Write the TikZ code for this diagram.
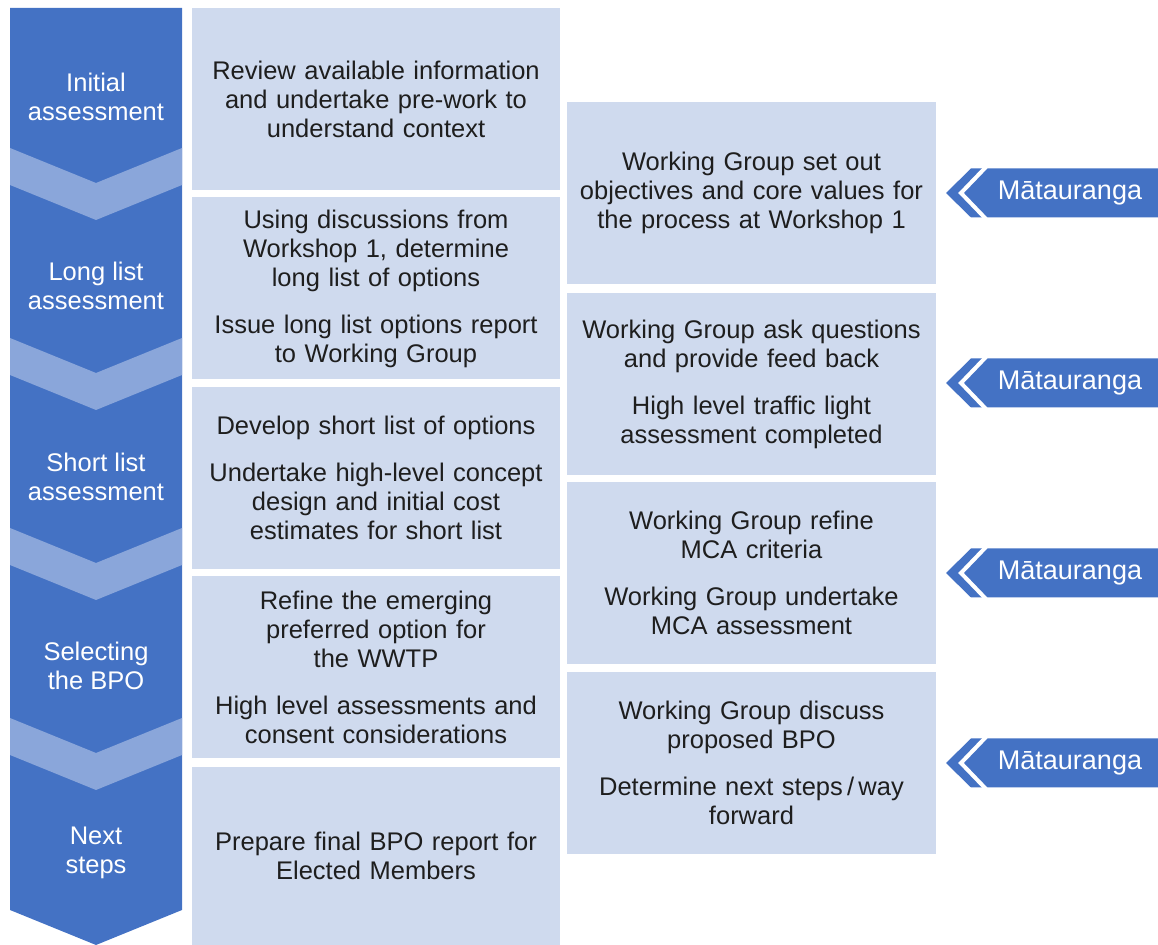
\documentclass[tikz,border=0pt]{standalone}
\usepackage{fontspec}
\setmainfont{Liberation Sans}
\definecolor{stageblue}{HTML}{4472C4}
\definecolor{bandblue}{HTML}{8AA6DA}
\definecolor{boxblue}{HTML}{CFDAEE}
\definecolor{boxtext}{HTML}{1E1E1E}
\tikzset{
  task/.style={fill=boxblue, text=boxtext, align=center, text width=172pt,
    minimum width=184pt, minimum height=91pt, inner sep=0pt,
    font=\fontsize{12.75}{14.5}\selectfont},
  stage/.style={text=white, align=center, font=\fontsize{12.75}{14.5}\selectfont},
  tagtext/.style={text=white, font=\fontsize{13.5}{15}\selectfont},
}
\begin{document}
\begin{tikzpicture}[x=0.5pt, y=-0.5pt]
\useasboundingbox (0,0) rectangle (1158,945);
% stage column with the lighter chevron bands
\fill[stageblue] (10,8) -- (182,8) -- (182,910) -- (96,945) -- (10,910) -- cycle;
\foreach \y in {148,338,528,718}
  \fill[bandblue] (10,\y) -- (96,\y+35) -- (182,\y) -- (182,\y+37) -- (96,\y+72) -- (10,\y+37) -- cycle;
\node[stage] (initial) at (96,97) {Initial\\assessment};
\node[stage] (long) at (96,286) {Long list\\assessment};
\node[stage] (short) at (96,477) {Short list\\assessment};
\node[stage] (select) at (96,666) {Selecting\\the BPO};
\node[stage] (next) at (96,853) {Next\\steps};
% tasks
\node[task] (review) at (376,99) {Review available information\\and undertake pre-work to\\understand context};
\node[task] (options) at (376,288.5) {Using discussions from\\Workshop 1, determine\\long list of options\\[9pt]Issue long list options report\\to Working Group};
\node[task] (develop) at (376,478) {Develop short list of options\\[9pt]Undertake high-level concept\\design and initial cost\\estimates for short list};
\node[task] (refine) at (376,667.5) {Refine the emerging\\preferred option for\\the WWTP\\[9pt]High level assessments and\\consent considerations};
\node[task, minimum height=89pt] (report) at (376,856) {Prepare final BPO report for\\Elected Members};
% working group
\node[task, minimum width=184.5pt] (objectives) at (751.5,193) {Working Group set out\\objectives and core values for\\the process at Workshop 1};
\node[task, minimum width=184.5pt] (feedback) at (751.5,384) {Working Group ask questions\\and provide feed back\\[9pt]High level traffic light\\assessment completed};
\node[task, minimum width=184.5pt] (criteria) at (751.5,573) {Working Group refine\\MCA criteria\\[9pt]Working Group undertake\\MCA assessment};
\node[task, minimum width=184.5pt] (discuss) at (751.5,763) {Working Group discuss\\proposed BPO\\[9pt]Determine next steps\,/\,way\\forward};
% matauranga tags
\foreach \c in {193,383,573,763} {
  \fill[stageblue] (946,\c) -- (971,\c-24.5) -- (1158,\c-24.5) -- (1158,\c+24.5) -- (971,\c+24.5) -- cycle;
  \draw[white, line width=2pt] (986,\c-26) -- (961,\c) -- (986,\c+26);
  \node[tagtext] at (1070,\c) {Mātauranga};
}
\end{tikzpicture}
\end{document}
